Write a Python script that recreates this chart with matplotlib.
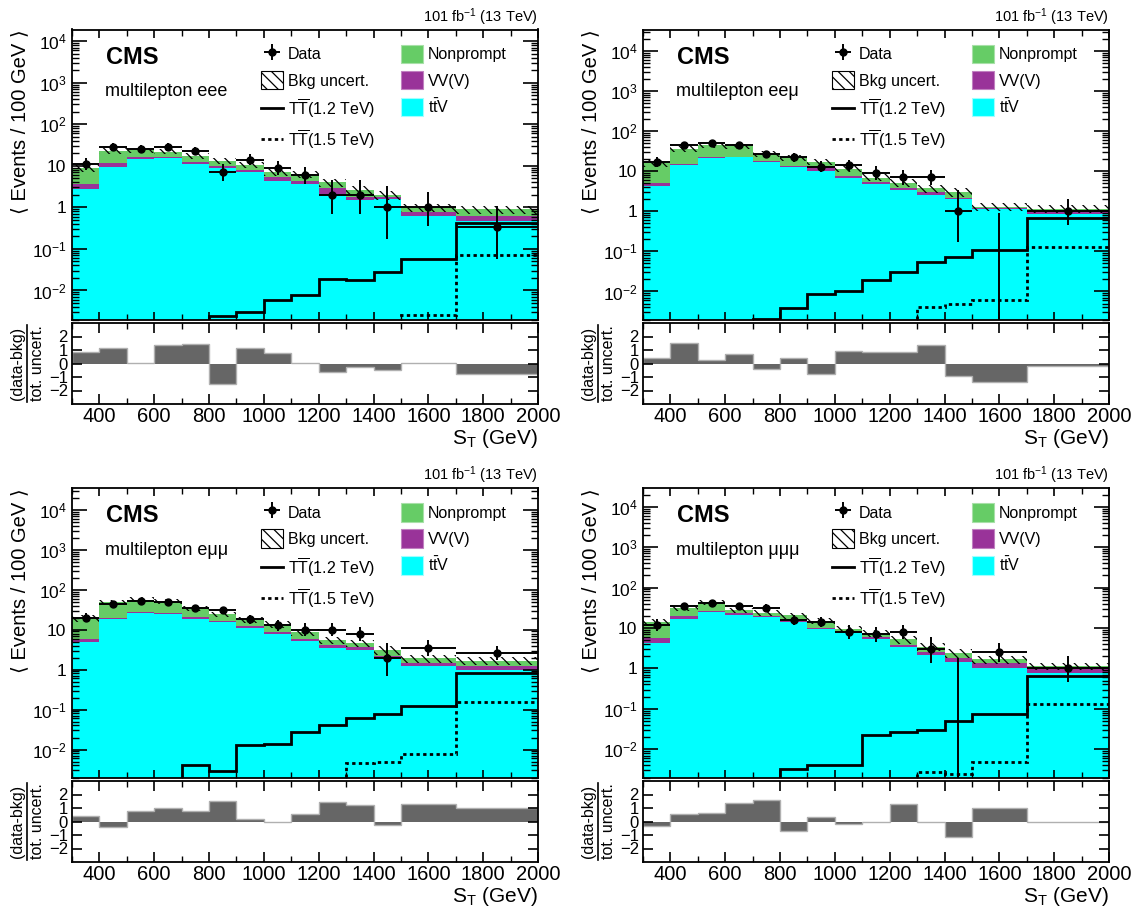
import math
import numpy as np
import matplotlib
matplotlib.use('Agg')
import matplotlib.pyplot as plt
from matplotlib.patches import Patch
from matplotlib.lines import Line2D
from matplotlib.ticker import FixedLocator, LogLocator, NullFormatter, MultipleLocator

plt.rcParams['font.family'] = ['Liberation Sans', 'DejaVu Sans']
plt.rcParams['mathtext.fontset'] = 'custom'
plt.rcParams['mathtext.rm'] = 'Liberation Sans'
plt.rcParams['mathtext.it'] = 'Liberation Sans:italic'
plt.rcParams['mathtext.bf'] = 'Liberation Sans:bold'
plt.rcParams['hatch.linewidth'] = 0.9

# --- data (values per 100 GeV, data as raw counts) ---
edges = [300, 400, 500, 600, 700, 800, 900, 1000, 1100, 1200, 1300, 1400, 1500, 1700, 2000]
channels = ['eee', 'ee\u03bc', 'e\u03bc\u03bc', '\u03bc\u03bc\u03bc']

data_eee = [11, 28, 25, 28, 23, 7, 14, 9, 6, 2, 2, 1, 2, 1]
ttv_eee = [2.75, 9.6, 14.5, 15, 11, 8.8, 7, 4.3, 3.6, 2.0, 1.5, 1.6, 0.63, 0.46]
vv_eee = [0.85, 1.9, 1.5, 1.5, 1.5, 1.2, 1.0, 1.1, 0.6, 0.85, 0.23, 0.15, 0.14, 0.17]
np_eee = [5.2, 11.5, 8, 5.5, 4.9, 3, 2.6, 1.6, 2.0, 1.15, 0.92, 0.25, 0.21, 0.27]
sig12_eee = [1e-4, 1e-4, 1e-4, 1e-4, 1e-4, 0.0024, 0.0031, 0.0059, 0.0079, 0.019, 0.018, 0.028, 0.057, 0.41]
sig15_eee = [1e-4, 1e-4, 1e-4, 1e-4, 1e-4, 1e-4, 1e-4, 1e-4, 1e-4, 1e-4, 1e-4, 1e-4, 0.0026, 0.071]
pull_eee = [0.85, 1.12, 0.07, 1.37, 1.45, -1.55, 1.12, 0.8, 0.07, -0.65, -0.25, -0.45, 0.02, -0.8]

data_eem = [17, 45, 49, 45, 26, 22, 13, 14, 9, 7, 7, 1, 0, 3]
ttv_eem = [4.3, 14.2, 21.7, 22, 17, 12.7, 10.3, 6.9, 4.9, 3.3, 2.55, 2.07, 1.12, 0.84]
vv_eem = [0.9, 0.8, 1.3, 1.0, 1.0, 0.8, 1.4, 0.7, 0.5, 0.5, 0.45, 0.13, 0.08, 0.16]
np_eem = [10.8, 21, 22, 19, 9, 8.1, 5.3, 4.0, 1.5, 1.4, 0.7, 0.9, 0.1, 0.17]
sig12_eem = [1e-4, 1e-4, 1e-4, 1e-4, 0.0021, 0.0038, 0.0087, 0.0102, 0.019, 0.031, 0.053, 0.073, 0.107, 0.68]
sig15_eem = [1e-4, 1e-4, 1e-4, 1e-4, 1e-4, 1e-4, 1e-4, 1e-4, 1e-4, 1e-4, 0.0042, 0.005, 0.0062, 0.13]
pull_eem = [0.4, 1.5, 0.28, 0.7, -0.43, 0.43, -0.8, 0.95, 0.88, 0.83, 1.38, -0.95, -1.4, -0.2]

data_emm = [20, 44, 52, 50, 35, 31, 18, 13, 10, 10, 8, 2, 7, 8]
ttv_emm = [5.0, 18.5, 26, 24.6, 18.8, 15.2, 11, 7.8, 5.3, 3.55, 3.1, 2.0, 1.26, 1.0]
vv_emm = [0.85, 1.5, 2.0, 1.9, 1.5, 1.3, 1.0, 1.1, 0.6, 0.6, 0.5, 0.25, 0.24, 0.26]
np_emm = [13.15, 28, 28, 23.5, 13.7, 7.5, 5.8, 4.6, 3.0, 1.35, 1.0, 0.85, 0.4, 0.39]
sig12_emm = [1e-4, 1e-4, 1e-4, 1e-4, 0.0042, 0.0029, 0.0133, 0.0139, 0.028, 0.040, 0.063, 0.078, 0.126, 0.81]
sig15_emm = [1e-4, 1e-4, 1e-4, 1e-4, 1e-4, 1e-4, 1e-4, 1e-4, 1e-4, 1e-4, 0.0046, 0.005, 0.0076, 0.158]
pull_emm = [0.44, -0.41, 0.8, 0.98, 0.78, 1.5, 0.22, -0.07, 0.54, 1.41, 1.24, -0.29, 1.29, 1.02]

data_mmm = [12, 34, 42, 34, 32, 16, 14, 8, 7, 8, 3, 0, 5, 3]
ttv_mmm = [4.3, 16.8, 24.6, 21.5, 18.5, 13.9, 9.2, 8.0, 5.4, 3.4, 2.2, 1.46, 1.04, 0.78]
vv_mmm = [1.2, 2.8, 2.4, 2.0, 1.5, 1.1, 0.8, 0.6, 0.5, 0.4, 0.4, 0.3, 0.34, 0.17]
np_mmm = [8.4, 11.9, 16, 4.1, 3.6, 5.4, 5.0, 0.6, 1.7, 1.4, 0.8, 0.68, 0.29, 0.19]
sig12_mmm = [1e-4, 1e-4, 1e-4, 1e-4, 1e-4, 0.0032, 0.0040, 0.0040, 0.022, 0.027, 0.030, 0.050, 0.076, 0.65]
sig15_mmm = [1e-4, 1e-4, 1e-4, 1e-4, 1e-4, 1e-4, 1e-4, 1e-4, 1e-4, 1e-4, 0.0028, 0.0024, 0.0047, 0.13]
pull_mmm = [-0.37, 0.54, 0.66, 1.34, 1.59, -0.68, 0.37, -0.17, -0.07, 1.27, -0.07, -1.17, 1.02, -0.07]

bkg_unc = [0.2, 0.15, 0.14, 0.14, 0.15, 0.16, 0.18, 0.2, 0.2, 0.22, 0.22, 0.25, 0.22, 0.22]
ymax = [1.9e4, 3.4e4, 3.5e4, 2.9e4]

panels = [
    (data_eee, ttv_eee, vv_eee, np_eee, sig12_eee, sig15_eee, pull_eee),
    (data_eem, ttv_eem, vv_eem, np_eem, sig12_eem, sig15_eem, pull_eem),
    (data_emm, ttv_emm, vv_emm, np_emm, sig12_emm, sig15_emm, pull_emm),
    (data_mmm, ttv_mmm, vv_mmm, np_mmm, sig12_mmm, sig15_mmm, pull_mmm),
]

c_np = '#66cc66'
c_vv = '#993399'
c_ttv = '#00ffff'
hatch = '\\\\\\'


def pois_cdf(k, mu):
    s = 0.0
    term = math.exp(-mu)
    for i in range(k + 1):
        s += term
        term *= mu / (i + 1)
    return s


def solve(f, target, lo, hi):
    # f decreasing in mu
    for _ in range(80):
        mid = 0.5 * (lo + hi)
        if f(mid) > target:
            lo = mid
        else:
            hi = mid
    return 0.5 * (lo + hi)


def garwood(n):
    a = 0.158655
    up = solve(lambda m: pois_cdf(n, m), a, 0.0, n + 60.0)
    if n == 0:
        return 0.0, up
    low = solve(lambda m: pois_cdf(n - 1, m), 1 - a, 0.0, n + 60.0)
    return low, up


edges_a = np.array(edges, dtype=float)
widths = np.diff(edges_a) / 100.0
centers = 0.5 * (edges_a[1:] + edges_a[:-1])
halfw = 0.5 * np.diff(edges_a)

W, H = 1133, 909
fig = plt.figure(figsize=(W / 100, H / 100), dpi=100)

lefts = [72, 643, 72, 643]
tops = [29.5, 29.5, 488, 488]
bots = [319.5, 319.5, 777.5, 777.5]
rtops = [323, 323, 781, 781]
rbots = [404, 404, 862, 862]
pw = 466

for i, (dat, ttv, vv, npr, s12, s15, pull) in enumerate(panels):
    ax = fig.add_axes([lefts[i] / W, 1 - bots[i] / H, pw / W, (bots[i] - tops[i]) / H])
    rax = fig.add_axes([lefts[i] / W, 1 - rbots[i] / H, pw / W, (rbots[i] - rtops[i]) / H])

    ttv = np.array(ttv)
    vv = np.array(vv)
    npr = np.array(npr)
    tot = ttv + vv + npr
    ax.set_yscale('log')
    ax.stairs(tot, edges, baseline=1e-6, fill=True, color=c_np, lw=0)
    ax.stairs(ttv + vv, edges, baseline=1e-6, fill=True, color=c_vv, lw=0)
    ax.stairs(ttv, edges, baseline=1e-6, fill=True, color=c_ttv, lw=0)
    unc = np.array(bkg_unc)
    ax.stairs(tot * (1 + unc), edges, baseline=tot * (1 - unc), fill=True,
              facecolor='none', edgecolor='black', hatch=hatch, lw=0)
    ax.stairs(s12, edges, baseline=None, color='black', lw=2.0)
    ax.stairs(s15, edges, baseline=None, color='black', lw=2.0, ls=(0, (1.2, 1.2)))

    cnt = np.array(dat)
    vals = cnt / widths
    lo_e = []
    hi_e = []
    for n, w in zip(dat, widths):
        l, u = garwood(n)
        lo_e.append((n - l) / w)
        hi_e.append((u - n) / w)
    eb = ax.errorbar(centers, vals, xerr=halfw, yerr=[lo_e, hi_e], fmt='o', color='black',
                     ms=5, lw=1.4, capsize=0)

    ax.set_xlim(300, 2000)
    ax.set_ylim(0.002, ymax[i])
    ax.yaxis.set_major_locator(FixedLocator([1e-2, 1e-1, 1, 10, 1e2, 1e3, 1e4]))
    ax.set_yticklabels([r'$10^{-2}$', r'$10^{-1}$', '1', '10', r'$10^{2}$', r'$10^{3}$', r'$10^{4}$'])
    ax.yaxis.set_minor_locator(LogLocator(base=10, subs=np.arange(2, 10), numticks=20))
    ax.yaxis.set_minor_formatter(NullFormatter())
    ax.xaxis.set_major_locator(MultipleLocator(200))
    ax.xaxis.set_minor_locator(MultipleLocator(100))
    ax.tick_params(which='both', direction='in', top=True, right=True, labelbottom=False)
    ax.tick_params(axis='y', which='major', length=11, width=1.2, labelsize=12.5, pad=4)
    ax.tick_params(axis='y', which='minor', length=5, width=1.0)
    ax.tick_params(axis='x', which='major', length=6, width=1.2)
    ax.tick_params(axis='x', which='minor', length=4, width=1.0)
    for sp in ax.spines.values():
        sp.set_linewidth(1.3)

    ax.text(0.073, 0.905, 'CMS', transform=ax.transAxes, fontsize=17, fontweight='bold',
            ha='left', va='center')
    ax.text(0.07, 0.785, 'multilepton ' + channels[i], transform=ax.transAxes, fontsize=13,
            ha='left', va='center')
    ax.text(1.0, 1.006, r'101 fb$^{-1}$ (13 TeV)', transform=ax.transAxes, fontsize=10.5,
            ha='right', va='bottom')
    ax.text(-0.113, 1.0, '\u27e8 Events / 100 GeV \u27e9', transform=ax.transAxes, fontsize=14.5,
            rotation=90, ha='center', va='top')

    h_unc = Patch(facecolor='white', edgecolor='black', hatch=hatch, lw=0.8)
    h_s12 = Line2D([], [], color='black', lw=2.0)
    h_s15 = Line2D([], [], color='black', lw=2.0, ls=(0, (1.2, 1.2)))
    h_np = Patch(facecolor=c_np, edgecolor='#a8e0a8', lw=0.8)
    h_vv = Patch(facecolor=c_vv, edgecolor='#c080c0', lw=0.8)
    h_ttv = Patch(facecolor=c_ttv, edgecolor='#a0ffff', lw=0.8)
    ax.legend([eb, h_unc, h_s12, h_s15, h_np, h_vv, h_ttv],
              ['Data', 'Bkg uncert.', r'T$\overline{\mathrm{T}}$(1.2 TeV)', r'T$\overline{\mathrm{T}}$(1.5 TeV)',
               'Nonprompt', 'VV(V)', r't$\bar{\mathrm{t}}$V'],
              ncol=2, loc='upper left', bbox_to_anchor=(0.405, 0.948), frameon=False,
              fontsize=11.5, handlelength=1.4, handleheight=1.4, handletextpad=0.3,
              columnspacing=1.6, labelspacing=0.5, borderpad=0, borderaxespad=0)

    # ratio panel
    rax.stairs(pull, edges, baseline=0, fill=True, color='#666666', lw=0)
    rax.stairs(pull, edges, baseline=0, color='#b0b0b0', lw=1.0)
    rax.set_xlim(300, 2000)
    rax.set_ylim(-3, 3)
    rax.set_yticks([-2, -1, 0, 1, 2])
    rax.xaxis.set_major_locator(MultipleLocator(200))
    rax.xaxis.set_minor_locator(MultipleLocator(100))
    rax.tick_params(which='both', direction='in', top=True, right=True)
    rax.tick_params(axis='x', which='major', length=7, width=1.2, labelsize=14.5, pad=2)
    rax.tick_params(axis='x', which='minor', length=4, width=1.0)
    rax.tick_params(axis='y', which='major', length=7, width=1.2, labelsize=12, pad=3)
    for sp in rax.spines.values():
        sp.set_linewidth(1.3)
    rax.text(1.0, -0.29, r'S$_{\mathrm{T}}$ (GeV)', transform=rax.transAxes, fontsize=15,
             ha='right', va='top')
    rax.text(-0.118, 0.5, '(data-bkg)', transform=rax.transAxes, fontsize=11.5,
             rotation=90, ha='center', va='center')
    rax.text(-0.075, 0.5, 'tot. uncert.', transform=rax.transAxes, fontsize=11.5,
             rotation=90, ha='center', va='center')
    rax.add_line(Line2D([-0.097, -0.097], [0.02, 0.98], transform=rax.transAxes,
                        color='black', lw=1.2, clip_on=False))

fig.savefig('out.png', dpi=100)
